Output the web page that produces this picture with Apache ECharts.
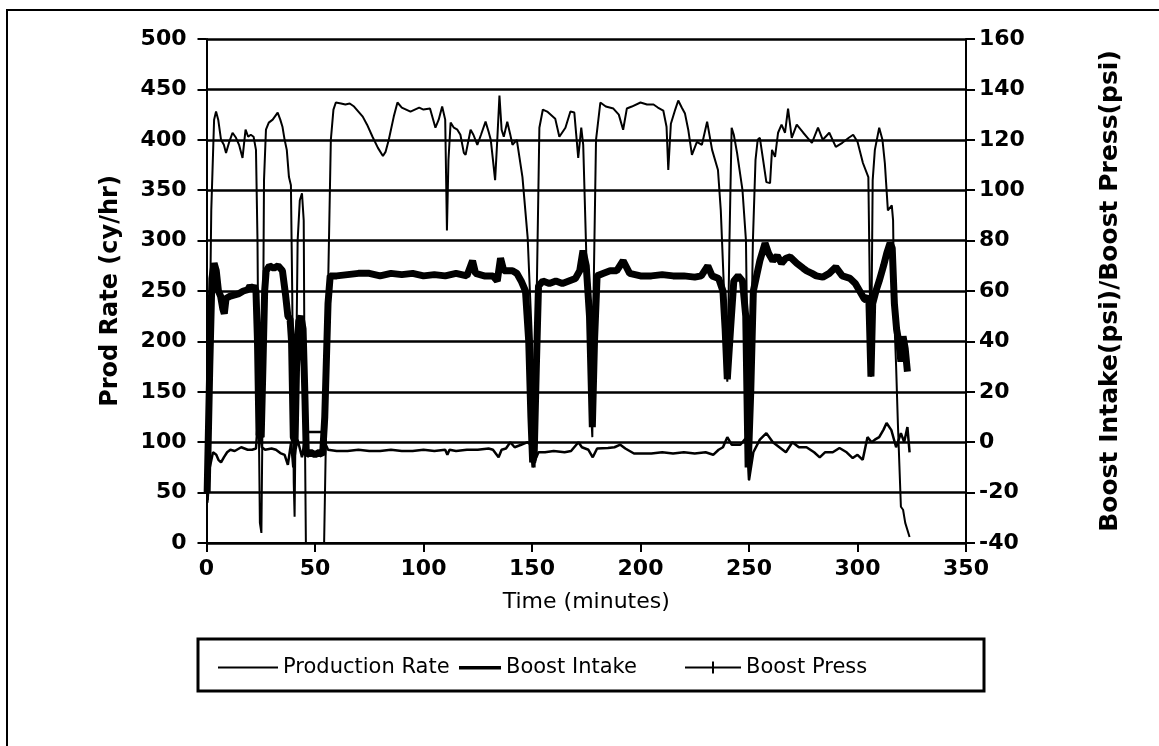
<!DOCTYPE html>
<html>
<head>
<meta charset="utf-8">
<script src="https://cdn.jsdelivr.net/npm/echarts@6/dist/echarts.min.js"></script>
<style>
  html, body { margin: 0; padding: 0; background: #fff; }
  #chart { width: 1159px; height: 746px; }
</style>
</head>
<body>
<div id="chart"></div>
<script>
// time in minutes, rate in cy/hr (left axis)
const rateTime = [0.5, 2.2, 3.5, 4.4, 5.4, 6.7, 8, 9, 10.5, 12, 13.6, 15, 16.6, 18, 19.2, 20.4, 21.7, 22.8, 23.5, 24.2, 24.6, 25.3, 25.8, 26.5, 27.4, 28.7, 30.5, 32.8, 34, 35, 36, 37, 38, 38.9, 39.5, 40.2, 40.6, 41.2, 42, 43, 44, 44.8, 45.3, 45.8, 54.2, 55, 56, 57.3, 58.5, 59.6, 62, 64, 66, 68, 70, 72, 74, 76.5, 79, 81.3, 82.5, 84, 86.3, 88, 90, 92, 94, 96, 98, 100, 103, 105.5, 107, 108.6, 110, 110.8, 111.5, 112.5, 114, 115.6, 117, 118.6, 119.4, 121.7, 123, 124.8, 126.5, 128.6, 130, 131, 132, 133, 134, 135, 136, 137, 138.6, 140, 141, 143, 145.6, 148, 150, 151.2, 152.2, 153.4, 155, 157, 160.7, 162.6, 165.4, 167.7, 169.5, 171.3, 172.7, 173.6, 175.5, 177, 177.8, 178.4, 179.5, 181.5, 184, 187.5, 190, 192, 193.7, 196, 200, 203, 206, 208, 210.5, 212, 212.8, 214, 216, 217.4, 219, 220.5, 222, 223.7, 226, 228.3, 230.7, 233, 235.7, 237, 238.5, 240, 241, 242, 243, 244.5, 247, 248.6, 250, 251.8, 253, 254, 255, 256.5, 258, 259.7, 260.6, 262, 263.4, 265, 266.6, 268, 269.7, 272, 275, 277, 279, 281.8, 284, 287, 290, 293, 296, 298, 300, 302.5, 305, 306.2, 307, 308, 310, 311.5, 312.6, 314, 315.8, 316.4, 317, 317.8, 318.6, 320, 321, 322, 324];
const rateValue = [40, 330, 420, 428, 420, 400, 395, 387, 398, 407, 402, 395, 382, 410, 403, 405, 403, 390, 300, 100, 20, 10, 120, 360, 410, 417, 420, 427, 420, 413, 400, 390, 363, 355, 250, 60, 26, 150, 300, 340, 347, 320, 120, 0, 0, 100, 250, 400, 430, 437, 436, 435, 436, 433, 428, 423, 415, 403, 392, 384, 388, 400, 423, 437, 432, 430, 428, 430, 432, 430, 431, 412, 420, 433, 420, 310, 380, 417, 412, 410, 405, 387, 385, 410, 405, 395, 405, 418, 408, 400, 380, 360, 400, 444, 410, 403, 418, 405, 395, 400, 363, 303, 200, 75, 250, 412, 430, 428, 421, 403, 412, 428, 427, 382, 412, 395, 250, 140, 105, 250, 400, 437, 433, 431, 425, 410, 431, 433, 437, 435, 435, 432, 429, 413, 370, 416, 430, 439, 432, 426, 410, 385, 398, 395, 418, 390, 370, 330, 250, 160, 300, 412, 405, 387, 350, 300, 62, 300, 380, 400, 402, 380, 358, 357, 390, 383, 407, 415, 407, 431, 402, 415, 407, 402, 397, 412, 400, 407, 393, 397, 402, 405, 398, 377, 363, 165, 360, 390, 412, 400, 377, 330, 335, 320, 221, 175, 119, 36, 33, 20, 6];

// boost intake, psi (right axis)
const intakeTime = [0.3, 1.5, 2.5, 3.5, 4.5, 5.5, 6.5, 7.5, 8.2, 9, 11, 13, 15, 17, 19, 20, 21, 22, 22.8, 23.5, 24.2, 25.2, 26, 26.8, 27.5, 29, 31, 33, 35, 36.5, 37.5, 38.5, 39.2, 40, 40.8, 41.5, 42.5, 43.5, 44.5, 45.3, 46, 48, 50, 52, 53.5, 54.5, 56, 57, 60, 65, 70, 75, 80, 85, 90, 95, 100, 105, 110, 115, 120, 122.6, 124, 128, 132, 134, 135.5, 137, 139, 141, 143, 145, 147, 148.5, 149.5, 150.3, 151, 152, 153, 155, 158, 161, 164, 167, 170, 172, 173.5, 175, 176.5, 177.8, 178.8, 180, 183, 186, 189, 192, 195, 200, 205, 210, 215, 220, 225, 228, 231, 233, 236, 238, 239, 240, 241.5, 243, 245, 247, 248.5, 249.6, 250.8, 252, 253.5, 255, 257.4, 259, 261, 263, 265, 267, 269, 272, 275, 276.6, 279, 281, 284, 287, 290, 293, 296.6, 299, 301, 303, 304, 305.2, 306.2, 307, 308.5, 310, 312, 313.5, 315, 316, 317, 318, 319, 320, 321, 322, 323];
const intakeValue = [-20, 30, 65, 71, 68, 60, 58, 53, 51, 57, 58, 58.5, 59, 60, 60.5, 62, 61, 62, 60, 40, 3, 2, 30, 60, 68, 70, 69, 70, 68, 58, 50, 49, 40, 2, 0, 30, 48, 50, 45, 20, -5, -4, -5, -4, -5, 10, 55, 66, 66, 66.5, 67, 67, 66, 67, 66.5, 67, 66, 66.5, 66, 67, 66, 72, 67, 66, 66, 64, 73, 68, 68, 68, 67, 64, 60, 40, 10, -8, -5, 30, 62, 64, 63, 64, 63, 64, 65, 68, 76, 70, 50, 6, 40, 66, 67, 68, 68, 72, 67, 66, 66, 66.5, 66, 66, 65.5, 66, 70, 66, 65, 60, 45, 25, 45, 64, 66, 64, 50, -10, 20, 60, 66, 72, 79, 75, 72, 74, 71, 73, 73.5, 71, 69, 68, 67, 66, 65.5, 67, 69.5, 66, 65, 63, 60, 57, 56.4, 58, 26, 55, 60, 64, 70, 75, 79, 77, 55, 45, 40, 32, 42, 37, 28];

// boost press, psi (right axis)
const pressTime = [0, 0.5, 1.5, 3, 4.5, 5.5, 6.7, 8, 9.5, 11, 13, 16, 19, 21, 22.8, 23.5, 24.5, 25.5, 27, 30, 32, 34, 36, 37.5, 39, 40, 41, 42, 44, 45.5, 46.5, 50, 53.5, 54.5, 56, 60, 65, 70, 75, 80, 85, 90, 95, 100, 105, 110, 111, 112, 115, 120, 125, 130, 132, 134.6, 136, 138, 140, 142, 145, 148, 149.5, 150.3, 151.5, 153, 156, 160, 165, 168, 171.4, 173, 176, 178, 180, 185, 188, 190.7, 193, 197, 205, 210, 215, 220, 225, 230, 233.5, 236, 238, 240, 242, 246, 248, 249, 250, 252, 255, 258, 261, 264, 267, 270, 273, 276.5, 280, 282.6, 285, 288.6, 291.7, 295, 297.8, 300, 302.4, 304.6, 306.5, 308, 310, 312, 313.4, 315.6, 317.8, 320, 321.5, 323, 324];
const pressValue = [0, -23, -10, -4, -5, -7, -8, -6, -4, -3, -3.5, -2, -3, -3, -2.5, 6, 5, -2, -3, -2.5, -3, -4.3, -5, -9, 0, -10, -3, 1, -6, 2, 4, 4, 4, 0, -3, -3.5, -3.5, -3, -3.5, -3.5, -3, -3.5, -3.5, -3, -3.5, -3, -5, -3, -3.5, -3, -3, -2.5, -3, -6, -3, -2.5, 0, -2, -1, 0, -1, -10, -7, -4, -4, -3.5, -4, -3.5, 0, -2, -3, -6, -2.5, -2.3, -2, -1, -2.5, -4.5, -4.5, -4, -4.5, -4, -4.5, -4, -5, -3, -2, 2, -1, -1, 1, 2, -15, -4, 1, 3.6, 0, -2, -4, 0, -2, -2, -4, -6, -4, -4, -2.3, -4, -6.3, -5, -7, 2, 0, 1, 2, 5, 7.6, 4.8, -2, 3.6, 0, 6, -4];

const xTicks = { min: 0, max: 350, step: 50 }
const rateTicks = { min: 0, max: 500, step: 50 }
const psiTicks = { min: -40, max: 160, step: 20 }

const pairs = (xs, ys) => xs.map((x, i) => [x, ys[i]])

const chart = echarts.init(document.getElementById('chart'), null, { renderer: 'canvas' })

const tickFont = {
  color: '#000',
  fontFamily: 'DejaVu Sans',
  fontWeight: 'bold',
  fontSize: 22
}
const blackLine = { color: '#000', width: 2 }

const legendBase = {
  top: 652,
  itemHeight: 12,
  textStyle: { color: '#000', fontFamily: 'DejaVu Sans', fontSize: 21 },
  selectedMode: false
}

const option = {
  animation: false,
  backgroundColor: '#fff',
  grid: {
    left: 206.5,
    right: 193,
    top: 39,
    bottom: 203,
    containLabel: false,
    outerBoundsMode: 'none'
  },
  xAxis: {
    type: 'value',
    min: xTicks.min,
    max: xTicks.max,
    interval: xTicks.step,
    name: 'Time (minutes)',
    nameLocation: 'middle',
    nameGap: 48,
    nameTextStyle: { color: '#000', fontFamily: 'DejaVu Sans', fontSize: 22 },
    axisLine: { show: true, lineStyle: blackLine },
    axisTick: { show: true, length: 9, lineStyle: blackLine },
    axisLabel: { ...tickFont, margin: 15 },
    splitLine: { show: false }
  },
  yAxis: [
    {
      type: 'value',
      position: 'left',
      min: rateTicks.min,
      max: rateTicks.max,
      interval: rateTicks.step,
      name: 'Prod Rate (cy/hr)',
      nameLocation: 'middle',
      nameRotate: 90,
      nameGap: 84,
      nameTextStyle: { color: '#000', fontFamily: 'DejaVu Sans', fontWeight: 'bold', fontSize: 24 },
      axisLine: { show: true, lineStyle: blackLine },
      axisTick: { show: true, length: 9, lineStyle: blackLine },
      axisLabel: { ...tickFont, margin: 20 },
      splitLine: { show: true, lineStyle: { color: '#000', width: 2.5 } }
    },
    {
      type: 'value',
      position: 'right',
      min: psiTicks.min,
      max: psiTicks.max,
      interval: psiTicks.step,
      name: 'Boost Intake(psi)/Boost Press(psi)',
      nameLocation: 'middle',
      nameRotate: 90,
      nameGap: 132,
      nameTextStyle: { color: '#000', fontFamily: 'DejaVu Sans', fontWeight: 'bold', fontSize: 25 },
      axisLine: { show: true, lineStyle: blackLine },
      axisTick: { show: true, length: 9, lineStyle: blackLine },
      axisLabel: { ...tickFont, margin: 13 },
      splitLine: { show: false }
    }
  ],
  legend: [
    {
      ...legendBase,
      left: 213,
      itemWidth: 60,
      data: [{ name: 'Production Rate', icon: 'path://M0,0h0.1v0.1h-0.1zM0,5h60v2h-60zM59.9,11.9h0.1v0.1h-0.1z' }]
    },
    {
      ...legendBase,
      left: 454,
      itemWidth: 42,
      data: [{ name: 'Boost Intake', icon: 'path://M0,0h0.1v0.1h-0.1zM0,4.5h42v3.5h-42zM41.9,11.9h0.1v0.1h-0.1z' }]
    },
    {
      ...legendBase,
      left: 680,
      itemWidth: 56,
      data: [{ name: 'Boost Press', icon: 'path://M0,5h56v2h-56zM27,0h2v12h-2z' }]
    }
  ],
  graphic: [
    {
      type: 'rect',
      shape: { x: 7, y: 10, width: 1200, height: 800 },
      style: { fill: 'none', stroke: '#000', lineWidth: 2 },
      silent: true
    },
    {
      type: 'rect',
      shape: { x: 198, y: 639, width: 786, height: 52 },
      style: { fill: 'none', stroke: '#000', lineWidth: 3 },
      silent: true
    }
  ],
  series: [
    {
      name: 'Production Rate',
      type: 'line',
      yAxisIndex: 0,
      symbol: 'none',
      color: '#000',
      lineStyle: { color: '#000', width: 2 },
      data: pairs(rateTime, rateValue)
    },
    {
      name: 'Boost Intake',
      type: 'line',
      yAxisIndex: 1,
      symbol: 'none',
      color: '#000',
      lineStyle: { color: '#000', width: 7 },
      data: pairs(intakeTime, intakeValue)
    },
    {
      name: 'Boost Press',
      type: 'line',
      yAxisIndex: 1,
      symbol: 'none',
      color: '#000',
      lineStyle: { color: '#000', width: 2.5 },
      data: pairs(pressTime, pressValue)
    }
  ]
}

option && chart.setOption(option)
</script>
</body>
</html>
